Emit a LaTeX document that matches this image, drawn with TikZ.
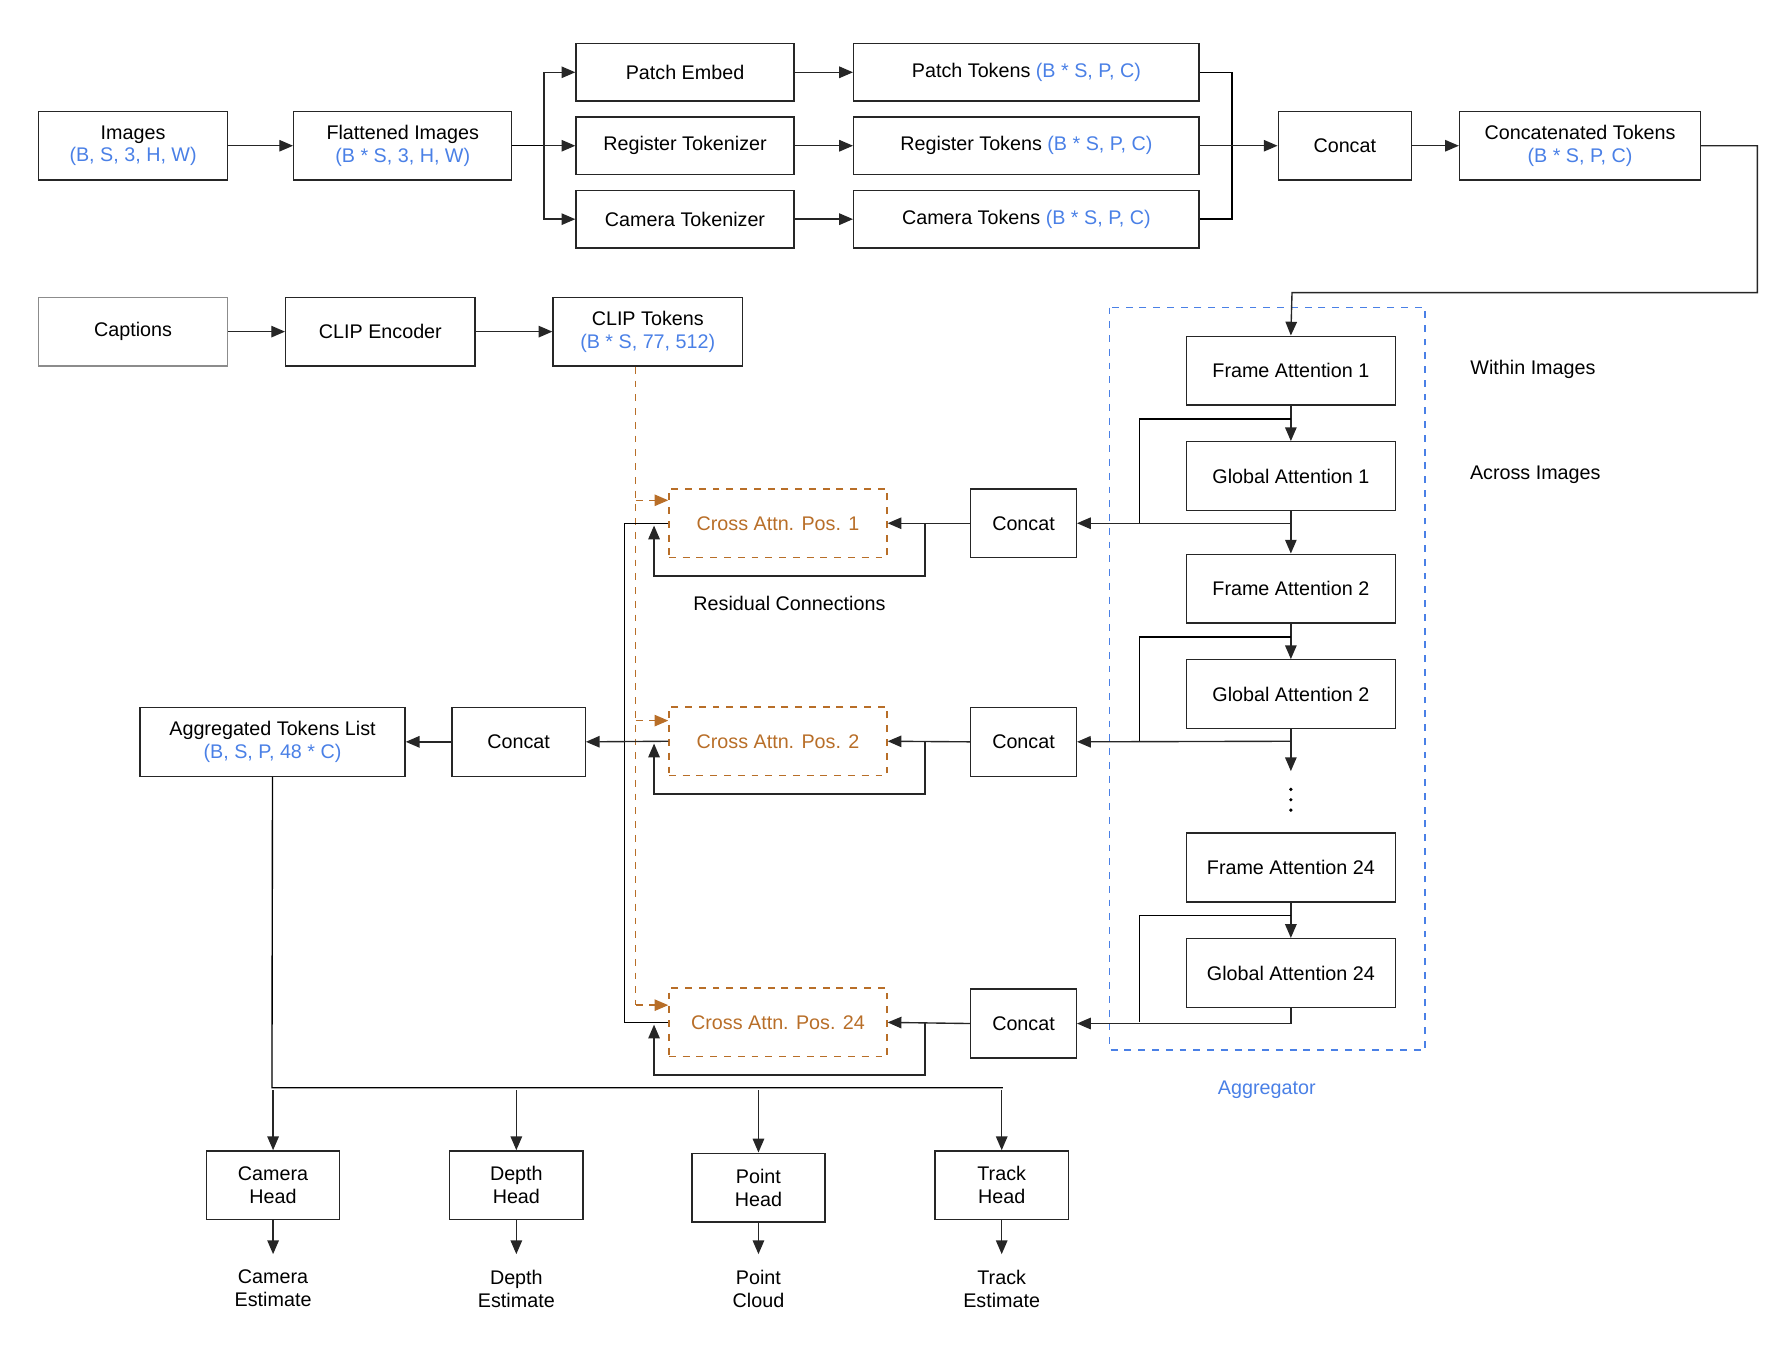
\documentclass[tikz,border=0pt]{standalone}
\usepackage{fontspec}
\setmainfont{Liberation Sans}
\usetikzlibrary{arrows.meta}
\definecolor{bl}{RGB}{74,128,230}
\definecolor{org}{RGB}{184,110,40}
\begin{document}
\begin{tikzpicture}[x=0.5pt,y=-0.5pt,
  font=\fontsize{8.6}{10}\selectfont,
  >={Triangle[length=6pt,width=5pt]},
  every path/.style={line width=0.6pt},
  box/.style={draw=black!85,line width=0.6pt,align=center,inner sep=0pt,minimum height=30pt},
  cbox/.style={box,draw=org,dashed,text=org,minimum width=95pt},
  lbl/.style={align=center,inner sep=0pt},
  ar/.style={->,black!85}]
\useasboundingbox (0,0) rectangle (1560,1175);
% top row
\node[box,minimum width=82.5pt] (img) at (116,127) {Images\\\textcolor{bl}{(B, S, 3, H, W)}};
\node[box,minimum width=95pt] (flat) at (351,127) {Flattened Images\\\textcolor{bl}{(B * S, 3, H, W)}};
\node[box,minimum width=95pt,minimum height=25pt] (pe) at (597,63) {Patch Embed};
\node[box,minimum width=95pt,minimum height=25pt] (rt) at (597,127) {Register Tokenizer};
\node[box,minimum width=95pt,minimum height=25pt] (ct) at (597,191) {Camera Tokenizer};
\node[box,minimum width=150.5pt,minimum height=25pt] (ptok) at (894.5,63) {Patch Tokens \textcolor{bl}{(B * S, P, C)}};
\node[box,minimum width=150.5pt,minimum height=25pt] (rtok) at (894.5,127) {Register Tokens \textcolor{bl}{(B * S, P, C)}};
\node[box,minimum width=150.5pt,minimum height=25pt] (ctok) at (894.5,191) {Camera Tokens \textcolor{bl}{(B * S, P, C)}};
\node[box,minimum width=58pt] (cc0) at (1172,127) {Concat};
\node[box,minimum width=105pt] (cct) at (1377,127) {Concatenated Tokens\\\textcolor{bl}{(B * S, P, C)}};
\coordinate (br) at (474,127);
\draw[ar] (img) -- (flat);
\draw (flat.east) -- (br);
\draw[ar] (br) |- (pe.west);
\draw[ar] (br) -- (rt.west);
\draw[ar] (br) |- (ct.west);
\draw[ar] (pe) -- (ptok);
\draw[ar] (rt) -- (rtok);
\draw[ar] (ct) -- (ctok);
\draw (ptok.east) -- ++(28,0) |- (ctok.east);
\draw[ar] (rtok) -- (cc0);
\draw[ar] (cc0) -- (cct);
% captions row
\node[box,draw=black!45,minimum width=82.5pt] (cap) at (116,289) {Captions};
\node[box,minimum width=82.5pt] (clipe) at (331.5,289) {CLIP Encoder};
\node[box,minimum width=82.5pt] (clipt) at (564.5,289) {CLIP Tokens\\\textcolor{bl}{(B * S, 77, 512)}};
\draw[ar] (cap) -- (clipe);
\draw[ar] (clipe) -- (clipt);
% aggregator
\draw[bl,dashed] (967,268) rectangle (1242,915);
\node[lbl,text=bl] (aggl) at (1104,950) {Aggregator};
\node[box,minimum width=91pt] (fa1) at (1125,323) {Frame Attention 1};
\node[box,minimum width=91pt] (ga1) at (1125,415) {Global Attention 1};
\node[box,minimum width=91pt] (fa2) at (1125,513) {Frame Attention 2};
\node[box,minimum width=91pt] (ga2) at (1125,605) {Global Attention 2};
\foreach \yy in {688,697,706} \fill (1125,\yy) circle (0.8pt);
\node[box,minimum width=91pt] (fa24) at (1125,756) {Frame Attention 24};
\node[box,minimum width=91pt] (ga24) at (1125,848) {Global Attention 24};
\node[lbl] (wi) at (1336,322) {Within Images};
\node[lbl] (ai) at (1338,414) {Across Images};
\draw[ar] (cct.east) -- ++(49,0) |- (1126,255) -- (fa1.north);
% concat boxes
\node[box,minimum width=46pt] (c1) at (892,456) {Concat};
\node[box,minimum width=46pt] (c2) at (892,646.5) {Concat};
\node[box,minimum width=46pt] (c24) at (892,892) {Concat};
\node[cbox] (x1) at (678,456) {Cross Attn. Pos. 1};
\node[cbox] (x2) at (678,646) {Cross Attn. Pos. 2};
\node[cbox] (x24) at (678,891) {Cross Attn. Pos. 24};
% block 1
\draw[ar] (fa1) -- (ga1);
\draw (1125,365) -| (993,456);
\draw[ar] (ga1.south) -- (fa2.north);
\draw[ar] (1125,456) -- (c1.east);
% block 2
\draw[ar] (fa2) -- (ga2);
\draw (1125,555) -| (993,646);
\draw[ar] (ga2.south) -- (1125,672);
\draw[ar] (1125,646) -- (c2.east);
% block 24
\draw[ar] (fa24) -- (ga24);
\draw (1125,798) -| (993,891);
\draw[ar] (ga24.south) |- (c24.east);
% concat to cross + residuals
\foreach \c/\x/\y in {c1/x1/456,c2/x2/646,c24/x24/891}{
  \draw[ar] (\c.west) -- (\x.east);
  \draw[ar] (806,\y) -- (806,\y+46) -- (570,\y+46) -- (570,\y+2);
}
\node[lbl] (res) at (688,526) {Residual Connections};
% clip dashed
\draw[org,dashed] (clipt.south -| 554,0) -- (554,876);
\draw[org,dashed,->] (554,436) -- (x1.north west |- 0,436);
\draw[org,dashed,->] (554,628) -- (x2.north west |- 0,628);
\draw[org,dashed,->] (554,876) -- (x24.north west |- 0,876);
% outputs
\node[box,minimum width=58pt] (c3) at (452,646.5) {Concat};
\node[box,minimum width=115.5pt] (agg) at (237.5,646.5) {Aggregated Tokens List\\\textcolor{bl}{(B, S, P, 48 * C)}};
\draw (x1.west) -- (544,456) -- (544,891) -- (x24.west);
\draw[ar] (x2.west) -- (c3.east);
\draw[ar] (c3) -- (agg);
% heads
\node[box,minimum width=58pt] (h1) at (238,1033) {Camera\\Head};
\node[box,minimum width=58pt] (h2) at (450,1033) {Depth\\Head};
\node[box,minimum width=58pt] (h3) at (661,1035) {Point\\Head};
\node[box,minimum width=58pt] (h4) at (873,1033) {Track\\Head};
\node[lbl] (o1) at (238,1123) {Camera\\Estimate};
\node[lbl] (o2) at (450,1123) {Depth\\Estimate};
\node[lbl] (o3) at (661,1123) {Point\\Cloud};
\node[lbl] (o4) at (873,1123) {Track\\Estimate};
\draw (agg.south) -- (237,948) -- (874,948);
\foreach \h/\o/\xx in {h1/o1/238,h2/o2/450,h3/o3/661,h4/o4/873}{
  \draw[ar] (\xx,950) -- (\h.north);
  \draw[ar] (\h.south) -- (\xx,1093);
}
\end{tikzpicture}
\end{document}
